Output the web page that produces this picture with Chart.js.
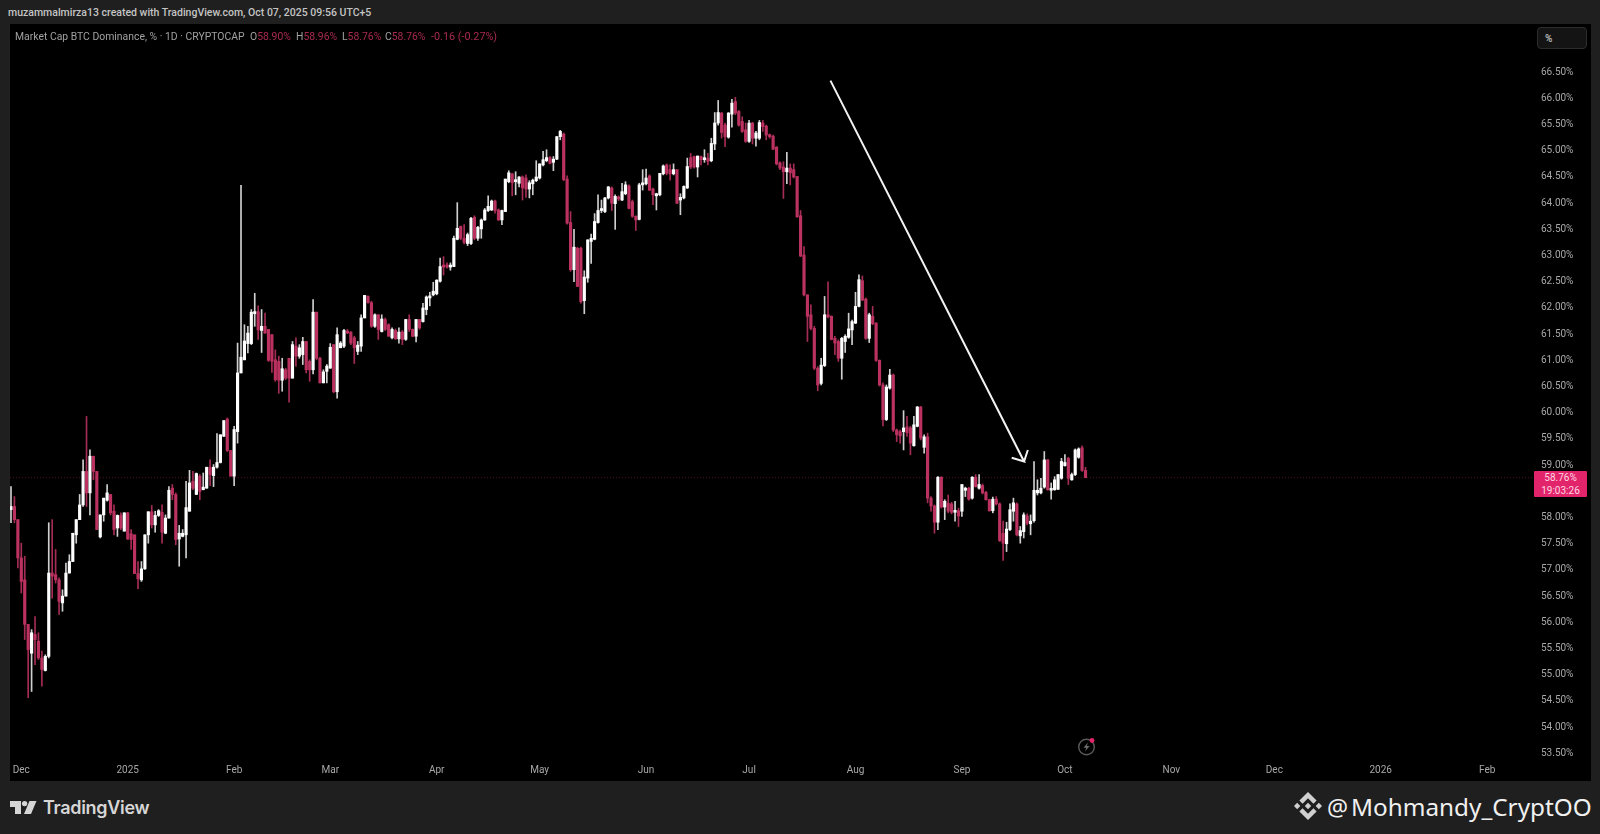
<!DOCTYPE html>
<html>
<head>
<meta charset="utf-8">
<script src="https://cdn.jsdelivr.net/npm/chart.js@4/dist/chart.umd.min.js"></script>
<style>
body { margin: 0; width: 1600px; height: 834px; overflow: hidden; background: #1f1f1f; font-family: Roboto, sans-serif; position: relative; }
#panel { position: absolute; left: 10px; top: 24px; width: 1581px; height: 757px; background: #000; }
#chart { position: absolute; left: 0; top: 0; }
.abs { position: absolute; white-space: nowrap; }
#created { left: 8px; top: 6px; font-size: 10.5px; font-weight: 500; color: #c4c4c4; line-height: 14px; }
.leg { top: 30px; font-size: 10.4px; line-height: 14px; color: #a0a0a0; }
.val { color: #a82a50; }
#unit { left: 1537px; top: 27px; width: 50px; height: 22px; background: #141414; border: 1px solid #2c2c2c; border-radius: 4px; box-sizing: border-box; color: #b0b0b0; font-size: 10px; font-weight: 700; line-height: 22px; padding-left: 7px; }
#tag { left: 1534px; top: 471px; width: 53px; height: 26px; background: #e2246a; border-radius: 1px; color: #ffd6e4; font-size: 10px; line-height: 12.5px; text-align: center; padding-top: 1px; box-sizing: border-box; }
#brand { left: 43px; top: 795px; font-family: Inter, sans-serif; font-size: 18px; font-weight: 600; color: #d6d6d6; line-height: 26px; letter-spacing: -0.3px; }
#at { left: 1327px; top: 790px; font-family: "Noto Sans", sans-serif; font-size: 23.5px; color: #f0f0f0; line-height: 34px; }
#handle { left: 1351px; top: 790px; font-family: "Noto Sans", sans-serif; font-size: 24.3px; color: #f0f0f0; line-height: 34px; }
</style>
</head>
<body>
<div id="panel"><canvas id="chart" width="1581" height="757"></canvas></div>

<div class="abs" id="created">muzammalmirza13 created with TradingView.com, Oct 07, 2025 09:56 UTC+5</div>
<div class="abs leg" style="left:15px">Market Cap BTC Dominance, % · 1D · CRYPTOCAP</div>
<div class="abs leg" style="left:250px">O<span class="val">58.90%</span></div>
<div class="abs leg" style="left:296px">H<span class="val">58.96%</span></div>
<div class="abs leg" style="left:342px">L<span class="val">58.76%</span></div>
<div class="abs leg" style="left:385px">C<span class="val">58.76%</span></div>
<div class="abs leg val" style="left:431px;font-size:10.8px">-0.16 (-0.27%)</div>
<div class="abs" id="unit">%</div>
<div class="abs" id="tag">58.76%<br>19:03:26</div>

<svg class="abs" style="left:1076px;top:736px" width="22" height="22" viewBox="0 0 22 22">
  <circle cx="10.5" cy="11" r="7.8" fill="none" stroke="#5a5a5a" stroke-width="1.4"/>
  <path d="M12 6.5 L7.5 11.8 H10.3 L9 15.5 L13.6 10 H10.8 Z" fill="#6e6e6e"/>
  <circle cx="16" cy="4.5" r="2.4" fill="#e2246a"/>
</svg>

<svg class="abs" style="left:0;top:790px" width="40" height="30" viewBox="0 790 40 30">
  <path d="M10 801h11v13h-6v-7h-5z" fill="#d6d6d6"/>
  <circle cx="24.6" cy="803.6" r="2.7" fill="#d6d6d6"/>
  <path d="M29.5 801h7l-5.5 13h-7z" fill="#d6d6d6"/>
</svg>
<div class="abs" id="brand">TradingView</div>

<svg class="abs" style="left:1294px;top:792px" width="28" height="28" viewBox="0 0 126.61 126.61">
  <path fill="#d0d0d0" d="M38.73 53.2l24.59-24.58 24.6 24.6 14.3-14.31L63.32 0 24.42 38.9z M0 63.31l14.3-14.31 14.31 14.31-14.31 14.3z M38.73 73.41l24.59 24.59 24.6-24.6 14.31 14.29-38.9 38.91-38.91-38.88z M98.01 63.31l14.3-14.31 14.31 14.3-14.31 14.32z M77.83 63.3L63.32 48.78 52.59 59.51l-1.24 1.23-2.54 2.54 14.51 14.5 14.51-14.47z"/>
</svg>
<div class="abs" id="at">@</div>
<div class="abs" id="handle">Mohmandy_CryptOO</div>

<script>
// daily candles, index 0 = 28 Nov 2024, last = 7 Oct 2025
const opens = [
58.15,58.21,57.96,57.23,56.81,55.96,55.41,55.77,55.64,55.32,
55.08,55.35,56.94,56.91,56.81,56.37,56.50,56.94,57.16,57.67,
57.96,58.24,58.88,58.47,59.17,58.88,57.63,58.05,58.33,58.44,
58.12,57.80,58.04,57.74,58.09,57.69,57.67,56.93,56.81,57.02,
57.67,58.11,57.86,58.04,58.10,57.70,57.99,58.56,58.44,57.59,
57.64,57.67,58.12,58.69,58.44,58.79,58.53,58.56,58.96,58.80,
58.96,59.05,59.55,59.88,59.28,58.79,59.64,60.76,61.01,61.32,
61.32,61.89,61.93,61.57,61.65,61.59,61.49,61.01,60.98,60.62,
60.82,61.04,60.66,61.27,61.08,61.11,61.36,60.98,60.82,61.92,
61.04,60.57,60.79,60.85,61.30,60.40,61.24,61.27,61.55,61.54,
61.43,61.17,61.27,61.81,62.22,62.10,61.65,61.87,61.55,61.78,
61.68,61.43,61.57,61.41,61.54,61.40,61.78,61.59,61.46,61.78,
61.74,61.97,62.19,62.25,62.27,62.51,62.82,62.82,62.78,62.79,
63.31,63.56,63.33,63.23,63.23,63.73,63.33,63.51,63.68,63.86,
63.87,64.04,63.87,63.68,63.84,64.41,64.56,64.41,64.38,64.50,
64.48,64.27,64.37,64.43,64.48,64.73,64.81,64.87,64.78,64.84,
65.27,65.32,64.46,63.63,62.73,63.14,63.14,62.14,62.57,63.27,
63.31,63.63,63.86,63.84,64.10,64.29,63.99,64.11,64.06,64.18,
64.33,64.03,63.75,63.69,64.35,64.37,64.52,64.27,64.14,64.16,
64.56,64.73,64.64,64.56,64.64,64.06,64.10,64.29,64.87,64.89,
64.69,64.89,64.83,64.86,64.81,65.13,65.53,65.72,65.49,65.26,
65.70,65.94,65.75,65.56,65.40,65.18,65.53,65.24,65.24,65.53,
65.47,65.30,65.28,65.07,64.77,64.69,64.60,64.67,64.64,64.51,
63.76,63.01,62.25,61.87,61.61,60.85,60.56,60.90,61.87,61.84,
61.42,61.36,61.04,61.36,61.44,61.58,61.71,62.03,62.52,62.17,
61.42,61.84,61.71,61.00,60.53,59.87,60.47,60.72,59.67,59.64,
59.64,59.73,59.71,59.37,59.74,60.11,59.34,59.54,58.37,58.22,
57.91,58.77,58.20,58.27,58.26,58.10,58.13,58.12,58.52,58.56,
58.37,58.77,58.56,58.61,58.48,58.34,58.13,58.35,58.26,57.70,
57.50,57.77,58.12,58.26,57.65,57.73,58.03,57.88,57.94,58.47,
58.47,58.58,59.10,58.52,58.53,58.54,58.75,58.99,59.13,58.72,
58.82,59.15,59.33,58.90];

const highs = [
58.59,58.40,57.96,57.51,57.26,55.96,55.86,56.11,55.80,55.45,
55.38,57.90,57.96,57.39,56.85,56.62,57.13,57.29,57.70,57.96,
58.44,59.10,59.93,59.29,59.17,58.88,58.05,58.37,58.63,58.44,
58.24,58.05,58.09,58.09,58.10,57.77,57.67,57.16,57.16,57.67,
58.11,58.23,58.12,58.15,58.24,58.05,58.59,58.63,58.47,57.85,
57.77,58.69,58.90,58.88,58.85,58.82,58.85,58.96,59.10,59.01,
59.60,59.58,59.85,59.90,59.28,59.74,61.33,64.34,61.68,61.65,
61.97,62.28,62.04,61.97,61.90,61.59,61.49,61.20,61.08,61.04,
60.85,61.04,61.36,61.43,61.30,61.44,61.36,61.01,62.16,61.92,
61.06,60.82,60.92,61.32,61.30,61.62,61.36,61.59,61.59,61.55,
61.46,61.36,61.87,62.24,62.23,62.13,61.89,61.87,61.87,61.81,
61.70,61.62,61.60,61.62,61.57,61.78,61.87,61.60,61.78,61.78,
62.09,62.23,62.30,62.49,62.54,62.95,62.98,62.86,62.86,63.37,
64.01,63.56,63.59,63.43,63.73,63.76,63.56,63.70,63.90,64.14,
64.06,64.06,63.89,63.87,64.46,64.62,64.57,64.60,64.51,64.52,
64.54,64.43,64.46,64.81,64.75,64.99,65.02,64.89,64.89,65.27,
65.39,65.34,64.52,63.84,63.50,63.16,63.16,62.71,63.30,63.41,
63.80,64.16,64.06,64.11,64.32,64.31,64.16,64.14,64.38,64.41,
64.35,64.06,63.76,64.38,64.64,64.65,64.54,64.29,64.19,64.57,
64.73,64.75,64.73,64.75,64.64,64.18,64.33,64.86,64.95,64.90,
64.90,64.90,65.02,64.95,65.24,65.73,65.96,65.73,65.53,65.73,
65.98,66.02,65.77,65.65,65.53,65.58,65.54,65.37,65.58,65.58,
65.49,65.32,65.30,65.08,64.79,64.79,64.97,64.75,64.75,64.51,
63.86,63.17,62.25,62.06,61.65,60.88,61.04,62.22,62.50,61.85,
61.46,61.39,61.44,61.49,61.90,61.77,62.30,62.63,62.61,62.19,
61.90,62.03,61.72,61.01,60.57,60.53,60.83,60.74,59.69,59.67,
60.04,59.93,59.74,59.93,60.12,60.12,59.58,59.61,58.40,58.24,
58.78,58.78,58.34,58.43,58.29,58.31,58.18,58.63,58.58,58.58,
58.78,58.82,58.82,58.64,58.50,58.35,58.39,58.40,58.28,57.93,
57.91,58.26,58.37,58.28,57.83,58.09,58.07,58.05,59.07,58.72,
58.75,59.26,59.11,58.66,58.78,58.82,59.13,59.20,59.15,58.85,
59.31,59.33,59.37,58.96];

const lows = [
57.90,57.90,57.04,56.56,55.67,54.56,54.68,55.19,55.29,54.78,
55.07,55.32,56.46,56.75,56.15,56.21,56.50,56.94,57.16,57.51,
57.96,58.21,58.21,58.05,58.72,57.77,57.61,57.93,58.31,58.05,
57.67,57.64,57.77,57.74,57.58,57.39,56.93,56.64,56.78,57.01,
57.51,57.80,57.72,58.02,57.51,57.69,57.99,58.34,57.48,57.07,
57.63,57.23,58.12,58.53,58.44,58.34,58.53,58.56,58.61,58.59,
58.94,59.04,59.55,59.26,58.79,58.61,59.42,60.76,61.01,61.14,
61.30,61.65,61.40,61.15,61.52,60.98,60.77,60.60,60.37,60.41,
60.63,60.20,60.66,60.89,61.04,60.92,60.76,60.60,60.74,61.01,
60.57,60.57,60.57,60.85,60.38,60.28,61.24,61.24,61.51,61.30,
60.94,61.11,61.17,61.81,62.09,61.63,61.63,61.40,61.54,61.57,
61.46,61.41,61.40,61.33,61.30,61.38,61.55,61.45,61.35,61.59,
61.73,61.87,62.04,62.23,62.25,62.49,62.63,62.76,62.72,62.79,
63.30,63.30,63.22,63.19,63.21,63.30,63.29,63.33,63.67,63.84,
63.86,63.81,63.67,63.59,63.84,64.39,64.14,64.16,64.31,64.06,
64.11,64.10,64.16,64.41,64.46,64.71,64.79,64.75,64.62,64.83,
65.21,64.43,63.60,62.70,62.50,62.41,62.09,61.89,62.49,62.85,
63.30,63.62,63.82,63.82,64.08,63.86,63.50,64.05,64.05,64.16,
63.89,63.73,63.48,63.68,64.25,64.35,64.24,63.97,63.87,64.14,
64.54,64.54,64.44,64.54,63.99,63.78,64.08,64.28,64.66,64.67,
64.50,64.73,64.78,64.73,64.79,65.02,65.49,65.24,65.08,65.24,
65.45,65.69,65.47,65.35,65.16,65.16,65.13,65.09,65.21,65.37,
65.21,65.24,65.02,64.73,64.64,64.09,64.37,64.35,64.48,63.73,
62.98,62.23,61.36,61.58,60.82,60.42,60.53,60.88,61.81,61.39,
61.11,60.98,60.64,61.15,61.42,61.30,61.70,62.02,62.14,61.40,
61.34,61.68,60.98,60.51,59.75,59.85,60.45,59.64,59.45,59.42,
59.29,59.55,59.20,59.36,59.73,59.48,59.23,58.28,58.12,57.70,
57.77,58.18,57.96,58.09,58.07,57.93,57.83,58.02,58.40,58.33,
58.35,58.58,58.54,58.45,58.33,58.12,58.09,58.24,57.54,57.18,
57.35,57.75,57.93,57.65,57.51,57.61,57.86,57.67,57.91,58.43,
58.45,58.56,58.52,58.35,58.52,58.53,58.73,58.98,58.63,58.71,
58.80,59.13,58.88,58.76];

const closes = [
58.21,57.96,57.23,56.78,55.96,55.48,55.80,55.67,55.32,55.10,
55.35,56.94,56.88,56.81,56.40,56.50,56.94,57.16,57.70,57.96,
58.24,58.88,58.47,59.17,58.88,57.77,58.05,58.37,58.47,58.09,
57.77,58.04,57.80,58.09,57.59,57.58,56.93,56.83,57.02,57.67,
58.11,57.86,58.04,58.13,57.72,57.99,58.52,58.44,57.58,57.70,
57.70,58.19,58.66,58.56,58.84,58.50,58.58,58.96,58.82,58.96,
59.05,59.58,59.85,59.28,58.79,59.68,60.76,61.06,61.37,61.52,
61.92,61.93,61.58,61.65,61.52,61.00,60.98,60.63,60.62,60.84,
60.66,60.66,61.30,61.08,61.24,61.36,60.82,60.82,61.92,61.04,
60.57,60.78,60.89,61.25,60.40,61.49,61.33,61.57,61.52,61.33,
61.24,61.29,61.81,62.24,62.10,61.65,61.87,61.59,61.79,61.59,
61.46,61.59,61.41,61.54,61.40,61.78,61.59,61.46,61.78,61.62,
62.00,62.21,62.23,62.32,62.53,62.79,62.78,62.78,62.81,63.33,
63.52,63.33,63.25,63.40,63.71,63.33,63.54,63.68,63.87,63.94,
64.04,63.86,63.68,63.86,64.46,64.58,64.39,64.43,64.50,64.29,
64.27,64.39,64.44,64.50,64.75,64.83,64.87,64.76,64.84,65.27,
65.37,64.45,63.62,62.73,63.16,62.41,62.12,62.59,63.30,63.33,
63.65,63.86,63.88,64.10,64.31,64.00,64.13,64.08,64.22,64.35,
63.90,63.75,63.68,64.35,64.38,64.48,64.25,64.16,64.18,64.57,
64.71,64.57,64.56,64.64,64.00,64.11,64.32,64.70,64.69,64.69,
64.90,64.83,64.86,64.80,65.14,65.53,65.73,65.35,65.27,65.72,
65.91,65.72,65.49,65.37,65.18,65.53,65.24,65.34,65.54,65.46,
65.30,65.27,65.03,64.75,64.67,64.60,64.67,64.58,64.50,63.74,
62.99,62.25,61.84,61.61,60.85,60.53,60.91,61.87,61.83,61.40,
61.33,61.04,61.42,61.46,61.60,61.74,62.03,62.54,62.15,61.42,
61.87,61.70,61.00,60.53,59.87,60.49,60.72,59.67,59.58,59.56,
59.71,59.62,59.42,59.77,60.11,59.52,59.54,58.37,58.22,57.91,
58.77,58.20,58.31,58.12,58.10,58.13,58.03,58.63,58.56,58.35,
58.77,58.59,58.63,58.47,58.34,58.13,58.35,58.26,57.56,57.51,
57.78,58.15,58.28,57.67,57.75,58.05,57.89,57.93,58.52,58.52,
58.56,59.10,58.53,58.54,58.72,58.82,59.07,59.05,58.75,58.82,
59.29,59.31,58.90,58.76];

// time axis: bar index of each month start
const monthTicks = [3, 34, 65, 93, 124, 154, 185, 215, 246, 277, 307, 338, 368, 399, 430];
const monthLabels = ['Dec', '2025', 'Feb', 'Mar', 'Apr', 'May', 'Jun', 'Jul', 'Aug', 'Sep', 'Oct', 'Nov', 'Dec', '2026', 'Feb'];

// 58.50 sits under the last price tag
const priceTicks = [53.5, 54, 54.5, 55, 55.5, 56, 56.5, 57, 57.5, 58, 59, 59.5, 60, 60.5, 61, 61.5, 62, 62.5, 63, 63.5, 64, 64.5, 65, 65.5, 66, 66.5];

const lastPrice = 58.76;

// hand drawn arrow, in bar index / percent
const arrowX = [238.7, 295.1, 291.5, 295.1, 296.2];
const arrowY = [66.34, 59.07, 59.14, 59.07, 59.29];

const xMin = -0.29, xMax = 443.06;
const yMin = 53.41, yMax = 67.42;

const white = '#ffffff';
const pink = '#bb3260';
const wickWhite = '#cfcfcf';
const wickPink = '#a52c56';

function isDown(i) { return closes[i] < opens[i]; }

// axis labels may not push the plot area in
function noPadding(scale) {
    scale.paddingLeft = scale.paddingRight = scale.paddingTop = scale.paddingBottom = 0;
}

new Chart(document.getElementById('chart'), {
    type: 'bar',
    data: {
        datasets: [
            {
                label: 'wicks',
                data: highs.map((h, i) => ({ x: i, y: [lows[i], h] })),
                backgroundColor: highs.map((h, i) => isDown(i) ? wickPink : wickWhite),
                barThickness: 1,
                order: 3
            },
            {
                label: 'bodies',
                data: opens.map((o, i) => ({ x: i, y: [Math.min(o, closes[i]), Math.max(o, closes[i])] })),
                backgroundColor: opens.map((o, i) => isDown(i) ? pink : white),
                barThickness: 2.5,
                minBarLength: 2,
                order: 2
            },
            {
                type: 'line',
                label: 'last',
                data: [{ x: xMin, y: lastPrice }, { x: xMax, y: lastPrice }],
                borderColor: 'rgba(226,36,106,0.35)',
                borderWidth: 1,
                borderDash: [1, 2],
                pointRadius: 0,
                order: 4
            },
            {
                type: 'line',
                label: 'arrow',
                data: arrowX.map((x, i) => ({ x: x, y: arrowY[i] })),
                borderColor: '#f2f2f2',
                borderWidth: 2,
                pointRadius: 0,
                tension: 0,
                order: 1
            }
        ]
    },
    options: {
        responsive: false,
        animation: false,
        devicePixelRatio: 1,
        grouped: false,
        layout: { padding: 0 },
        plugins: { legend: { display: false }, tooltip: { enabled: false } },
        scales: {
            x: {
                type: 'linear',
                min: xMin,
                max: xMax,
                offset: false,
                grid: { display: false, drawTicks: false },
                border: { display: false },
                afterBuildTicks: scale => { scale.ticks = monthTicks.map(v => ({ value: v })); },
                afterFit: scale => { scale.height = 23; noPadding(scale); },
                ticks: {
                    autoSkip: false,
                    maxRotation: 0,
                    padding: 6,
                    color: '#a8a8a8',
                    font: { family: 'Roboto', size: 10 },
                    callback: v => monthLabels[monthTicks.indexOf(v)]
                }
            },
            y: {
                position: 'right',
                min: yMin,
                max: yMax,
                grid: { display: false, drawTicks: false },
                border: { display: false },
                afterBuildTicks: scale => { scale.ticks = priceTicks.map(v => ({ value: v })); },
                afterFit: scale => { scale.width = 59; noPadding(scale); },
                ticks: {
                    autoSkip: false,
                    padding: 9,
                    color: '#a8a8a8',
                    font: { family: 'Roboto', size: 10 },
                    callback: v => v.toFixed(2) + '%'
                }
            }
        }
    }
});
</script>
</body>
</html>
